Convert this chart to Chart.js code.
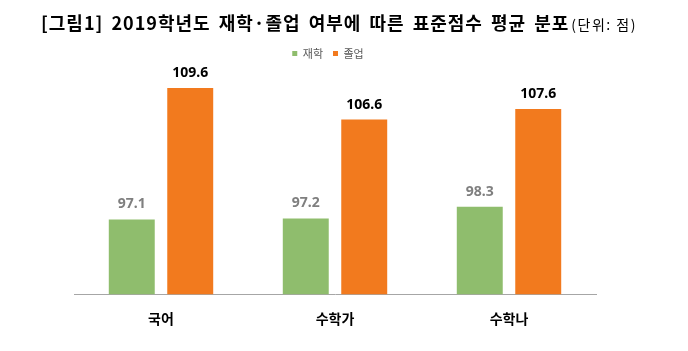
<!DOCTYPE html>
<html>
<head>
<meta charset="utf-8">
<script src="https://cdn.jsdelivr.net/npm/chart.js@4.4.1/dist/chart.umd.min.js"></script>
<style>
  html, body { margin: 0; padding: 0; background: #fff; }
  #wrap { position: relative; width: 688px; height: 351px; overflow: hidden; }
  #title {
    position: absolute; left: 41px; top: 10px; height: 24px; line-height: 24px;
    white-space: nowrap; font-family: "Noto Sans CJK KR", sans-serif; color: #000;
  }
  #title .main { font-size: 18px; font-weight: 700; letter-spacing: 1.0px; word-spacing: 3px; }
  #title .unit { font-size: 14px; font-weight: 400; letter-spacing: 1.5px; margin-left: 2px; }
  canvas { position: absolute; left: 0; top: 0; }
</style>
</head>
<body>
<div id="wrap">
  <canvas id="c" width="688" height="351"></canvas>
  <div id="title"><span class="main">[그림1] 2019학년도 재학·졸업 여부에 따른 표준점수 평균 분포</span><span class="unit">(단위: 점)</span></div>
</div>
<script>
const categories = ["국어", "수학가", "수학나"];
const seriesNames = ["재학", "졸업"];
const enrolled = [97.1, 97.2, 98.3];
const graduated = [109.6, 106.6, 107.6];

const GREEN = "#8FBD6D";
const ORANGE = "#F27A1E";

const valueLabels = {
  id: "valueLabels",
  afterDatasetsDraw(chart) {
    const ctx = chart.ctx;
    ctx.save();
    ctx.font = "bold 14px 'Noto Sans', 'Liberation Sans', sans-serif";
    ctx.textAlign = "center";
    ctx.textBaseline = "alphabetic";
    chart.data.datasets.forEach((ds, di) => {
      const meta = chart.getDatasetMeta(di);
      ctx.fillStyle = di === 0 ? "#7F7F7F" : "#000000";
      meta.data.forEach((bar, i) => {
        ctx.fillText(ds.data[i].toFixed(1), bar.x, bar.y - 11);
      });
    });
    ctx.restore();
  }
};

new Chart(document.getElementById("c"), {
  type: "bar",
  data: {
    labels: categories,
    datasets: [
      { label: seriesNames[0], data: enrolled, backgroundColor: GREEN, categoryPercentage: 0.672, barPercentage: 0.786 },
      { label: seriesNames[1], data: graduated, backgroundColor: ORANGE, categoryPercentage: 0.672, barPercentage: 0.786 }
    ]
  },
  options: {
    responsive: false,
    animation: false,
    layout: { padding: { left: 60, right: 92, top: 38, bottom: 8 } },
    plugins: {
      legend: {
        position: "top",
        labels: {
          boxWidth: 5, boxHeight: 5, padding: 10,
          color: "#595959",
          font: { size: 11, family: "'Noto Sans CJK KR', sans-serif" }
        }
      },
      tooltip: { enabled: false }
    },
    scales: {
      x: {
        grid: { display: false, drawTicks: false },
        border: { color: "#A6A6A6", width: 1 },
        ticks: {
          padding: 16, color: "#000",
          font: { size: 14, weight: "bold", family: "'Noto Sans CJK KR', sans-serif" }
        }
      },
      y: {
        min: 90, max: 111.4,
        grid: { display: false, drawTicks: false },
        border: { display: false },
        ticks: { display: false },
        afterFit(scale) { scale.width = 14; }
      }
    }
  },
  plugins: [valueLabels]
});
</script>
</body>
</html>
